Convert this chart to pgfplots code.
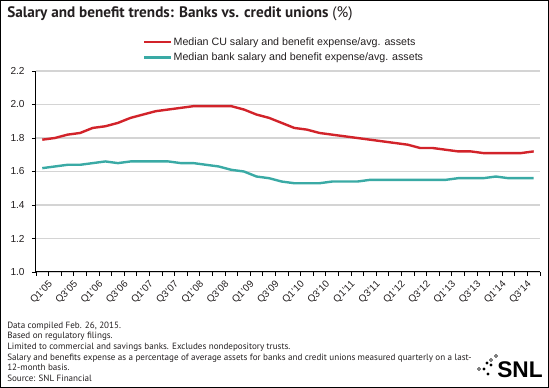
\documentclass[border=0pt]{standalone}
\usepackage{fontspec}
\setmainfont{Liberation Sans}
\newfontfamily\ptsans{PT Sans}
\usepackage{pgfplots}
\usepackage{pgfplotstable}
\pgfplotsset{compat=1.18}
\definecolor{cured}{RGB}{210,35,42}
\definecolor{bankteal}{RGB}{58,170,165}
\definecolor{gridgray}{RGB}{212,212,212}
\definecolor{txt}{RGB}{35,31,32}
\pgfplotstableread{
i cu bank
0 1.79 1.62
1 1.80 1.63
2 1.82 1.64
3 1.83 1.64
4 1.86 1.65
5 1.87 1.66
6 1.89 1.65
7 1.92 1.66
8 1.94 1.66
9 1.96 1.66
10 1.97 1.66
11 1.98 1.65
12 1.99 1.65
13 1.99 1.64
14 1.99 1.63
15 1.99 1.61
16 1.97 1.60
17 1.94 1.57
18 1.92 1.56
19 1.89 1.54
20 1.86 1.53
21 1.85 1.53
22 1.83 1.53
23 1.82 1.54
24 1.81 1.54
25 1.80 1.54
26 1.79 1.55
27 1.78 1.55
28 1.77 1.55
29 1.76 1.55
30 1.74 1.55
31 1.74 1.55
32 1.73 1.55
33 1.72 1.56
34 1.72 1.56
35 1.71 1.56
36 1.71 1.57
37 1.71 1.56
38 1.71 1.56
39 1.72 1.56
}\datatable
\begin{document}
\begin{tikzpicture}[x=0.75pt,y=0.75pt]
\useasboundingbox (0,0) rectangle (549,388);
\draw[line width=0.75pt,black] (0.5,0.5) rectangle (548.5,387.5);
\node[anchor=base west,inner sep=0pt,text=txt] at (7,370.5)
  {\ptsans\fontsize{11.4}{13}\selectfont\bfseries Salary and benefit trends: Banks vs. credit unions \mdseries(\%)};
\begin{axis}[
  at={(27pt,87pt)}, anchor=south west,
  scale only axis, width=378pt, height=150.75pt,
  xmin=-0.5, xmax=39.5, ymin=1.0, ymax=2.2,
  axis x line=bottom, axis y line=left,
  axis line style={-, line width=0.75pt, black},
  xtick={0,2,...,38},
  xticklabels={Q1'05,Q3'05,Q1'06,Q3'06,Q1'07,Q3'07,Q1'08,Q3'08,Q1'09,Q3'09,Q1'10,Q3'10,Q1'11,Q3'11,Q1'12,Q3'12,Q1'13,Q3'13,Q1'14,Q3'14},
  minor xtick={-0.5,0.5,...,39.5},
  every major x tick/.append style={draw=none},
  xticklabel style={rotate=45, anchor=north east, inner sep=0pt, yshift=-5pt, xshift=1pt, font=\fontsize{7.4}{8}\selectfont, text=txt},
  major tick length=3pt,
  minor tick length=3pt,
  tick align=outside,
  ytick={1.0,1.2,...,2.21},
  ymajorgrids,
  grid style={gridgray, line width=1.1pt},
  y tick label style={/pgf/number format/fixed, /pgf/number format/fixed zerofill, /pgf/number format/precision=1},
  /pgf/number format/assume math mode=true,
  tick label style={font=\fontsize{7.6}{9}\selectfont, text=txt},
  yticklabel style={xshift=-2pt},
  tick style={line width=0.6pt, black},
  legend style={at={(axis description cs:0.2123,1.175)}, anchor=north west,
    draw=none, fill=none, inner sep=0pt, row sep=2pt,
    font=\fontsize{8}{9}\selectfont, nodes={inner sep=1pt, text=txt}},
  legend cell align=left,
  legend image code/.code={\draw[#1, line width=1.8pt] (0,0) -- (20pt,0);},
  clip=false,
]
\addplot[cured, line width=1.8pt] table[x=i,y=cu]{\datatable};
\addlegendentry{Median CU salary and benefit expense/avg. assets}
\addplot[bankteal, line width=1.8pt] table[x=i,y=bank]{\datatable};
\addlegendentry{Median bank salary and benefit expense/avg. assets}
\end{axis}
\begin{scope}[font=\ptsans\fontsize{6.8}{7.5}\selectfont, every node/.style={anchor=base west, inner sep=0pt, text=txt}]
\node at (7,59.7) {Data compiled Feb. 26, 2015.};
\node at (7,49.1) {Based on regulatory filings.};
\node at (7,38.5) {Limited to commercial and savings banks. Excludes nondepository trusts.};
\node at (7,27.9) {Salary and benefits expense as a percentage of average assets for banks and credit unions measured quarterly on a last-};
\node at (7,17.3) {12-month basis.};
\node at (7,6.7) {Source: SNL Financial};
\end{scope}
\node[anchor=base west, inner sep=0pt, text=black] at (497,10.7) {\fontsize{17}{17}\selectfont\bfseries SNL};
\fill[black] (487,25) circle (1.7);
\fill[black] (491,23) circle (1.7);
\fill[black] (484,19) circle (1.7);
\fill[black] (488,14) circle (1.7);
\draw[black, line width=0.5pt] (496,32) circle (1.5);
\draw[black, line width=0.5pt] (491,28) circle (1.5);
\draw[black, line width=0.5pt] (479,19) circle (1.5);
\end{tikzpicture}
\end{document}
